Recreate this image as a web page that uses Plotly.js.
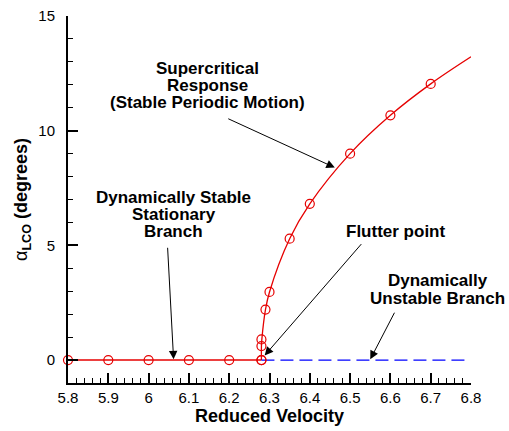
<!DOCTYPE html>
<html>
<head>
<meta charset="utf-8">
<script src="https://cdn.plot.ly/plotly-3.0.1.min.js"></script>
<style>html,body{margin:0;padding:0;background:#fff;}#chart{width:509px;height:431px;}</style>
</head>
<body>
<div id="chart"></div>
<script>
// ---- data ----
var stableX = [5.8, 5.9, 6.0, 6.1, 6.2, 6.28];
var stableY = [0, 0, 0, 0, 0, 0];

var lcoX = [6.28, 6.28, 6.28, 6.29, 6.30, 6.35, 6.40, 6.50, 6.60, 6.70];
var lcoY = [0, 0.61, 0.9, 2.2, 2.97, 5.29, 6.81, 9.0, 10.67, 12.04];

var curveX = [6.28, 6.28, 6.281, 6.29, 6.30, 6.35, 6.40, 6.50, 6.60, 6.70, 6.80];
var curveY = [0, 0.61, 0.9, 2.2, 2.97, 5.29, 6.81, 9.0, 10.67, 12.04, 13.22];

var unstableX = [6.28, 6.79];
var unstableY = [0, 0];

var xTickVals = [5.8, 5.9, 6.0, 6.1, 6.2, 6.3, 6.4, 6.5, 6.6, 6.7, 6.8];
var xTickText = ['5.8', '5.9', '6', '6.1', '6.2', '6.3', '6.4', '6.5', '6.6', '6.7', '6.8'];
var yTickVals = [0, 5, 10, 15];
var yTickText = ['0', '5', '10', '15'];

// label lines
var labelText = ['Supercritical', 'Response', '(Stable Periodic Motion)',
                 'Dynamically Stable', 'Stationary', 'Branch',
                 'Flutter point',
                 'Dynamically', 'Unstable Branch'];
var labelX = [6.147, 6.147, 6.147, 6.063, 6.063, 6.063, 6.613, 6.717, 6.717];
var labelY = [12.72, 11.98, 11.24, 7.1, 6.33, 5.6, 5.6, 3.45, 2.67];

// arrows: tip (x,y) and tail (ax,ay)
var arrowTipX = [6.462, 6.062, 6.288, 6.550];
var arrowTipY = [8.39, 0.03, 0.2, 0.03];
var arrowTailX = [6.194, 6.047, 6.531, 6.612];
var arrowTailY = [10.55, 4.96, 5.12, 2.13];

var RED = 'rgb(230,0,0)';
var FONT = 'Liberation Sans, Arial, Helvetica, sans-serif';

var traces = [
  {x: stableX, y: stableY, mode: 'lines', line: {color: RED, width: 1.5}, hoverinfo: 'skip'},
  {x: curveX, y: curveY, mode: 'lines', line: {color: RED, width: 1.3, shape: 'spline', smoothing: 1}, hoverinfo: 'skip'},
  {x: unstableX, y: unstableY, mode: 'lines', line: {color: 'rgb(0,0,255)', width: 1.3, dash: '13px,6px'}, hoverinfo: 'skip'},
  {x: stableX, y: stableY, mode: 'markers', cliponaxis: false,
   marker: {symbol: 'circle-open', size: 9, color: RED, line: {width: 1.2, color: RED}}},
  {x: lcoX, y: lcoY, mode: 'markers', cliponaxis: false,
   marker: {symbol: 'circle-open', size: 9, color: RED, line: {width: 1.2, color: RED}}}
];

var annotations = [];
for (var i = 0; i < labelText.length; i++) {
  annotations.push({
    x: labelX[i], y: labelY[i], xref: 'x', yref: 'y',
    text: '<b>' + labelText[i] + '</b>', showarrow: false,
    xanchor: 'center', yanchor: 'middle',
    font: {family: FONT, size: 17, color: 'black'}
  });
}
for (var j = 0; j < arrowTipX.length; j++) {
  annotations.push({
    x: arrowTipX[j], y: arrowTipY[j], xref: 'x', yref: 'y',
    ax: arrowTailX[j], ay: arrowTailY[j], axref: 'x', ayref: 'y',
    text: '', showarrow: true, arrowhead: 2, arrowsize: 1.7, arrowwidth: 1,
    arrowcolor: 'black', standoff: 0, startstandoff: 0
  });
}

var layout = {
  width: 509, height: 431,
  margin: {l: 68, r: 38, t: 16, b: 48},
  paper_bgcolor: 'white', plot_bgcolor: 'white',
  showlegend: false,
  font: {family: FONT, size: 15, color: 'black'},
  xaxis: {
    range: [5.8, 6.8], tickmode: 'array', tickvals: xTickVals, ticktext: xTickText,
    ticks: 'inside', ticklen: 10, tickwidth: 2, tickcolor: 'black',
    showline: true, linewidth: 2, linecolor: 'black', mirror: false,
    showgrid: false, zeroline: false,
    tickfont: {family: FONT, size: 15, color: 'black'},
    minor: {tickmode: 'linear', tick0: 5.8, dtick: 0.02, ticks: 'inside', ticklen: 5, tickwidth: 1, tickcolor: 'black', showgrid: false},
    title: {text: '<b>Reduced Velocity</b>', font: {family: FONT, size: 18, color: 'black'}, standoff: 4}
  },
  yaxis: {
    range: [-1, 15], tickmode: 'array', tickvals: yTickVals, ticktext: yTickText,
    ticks: 'inside', ticklen: 10, tickwidth: 2, tickcolor: 'black',
    showline: true, linewidth: 2, linecolor: 'black', mirror: false,
    showgrid: false, zeroline: false, ticklabelstandoff: 8,
    tickfont: {family: FONT, size: 15, color: 'black'},
    minor: {tickmode: 'linear', tick0: 0, dtick: 1, ticks: 'inside', ticklen: 5, tickwidth: 1, tickcolor: 'black', showgrid: false},
    title: {text: 'α<sub><b>LCO</b></sub><b> (degrees)</b>', font: {family: FONT, size: 18, color: 'black'}, standoff: 6}
  },
  annotations: annotations
};

Plotly.newPlot('chart', traces, layout, {displayModeBar: false, staticPlot: true});
</script>
</body>
</html>
